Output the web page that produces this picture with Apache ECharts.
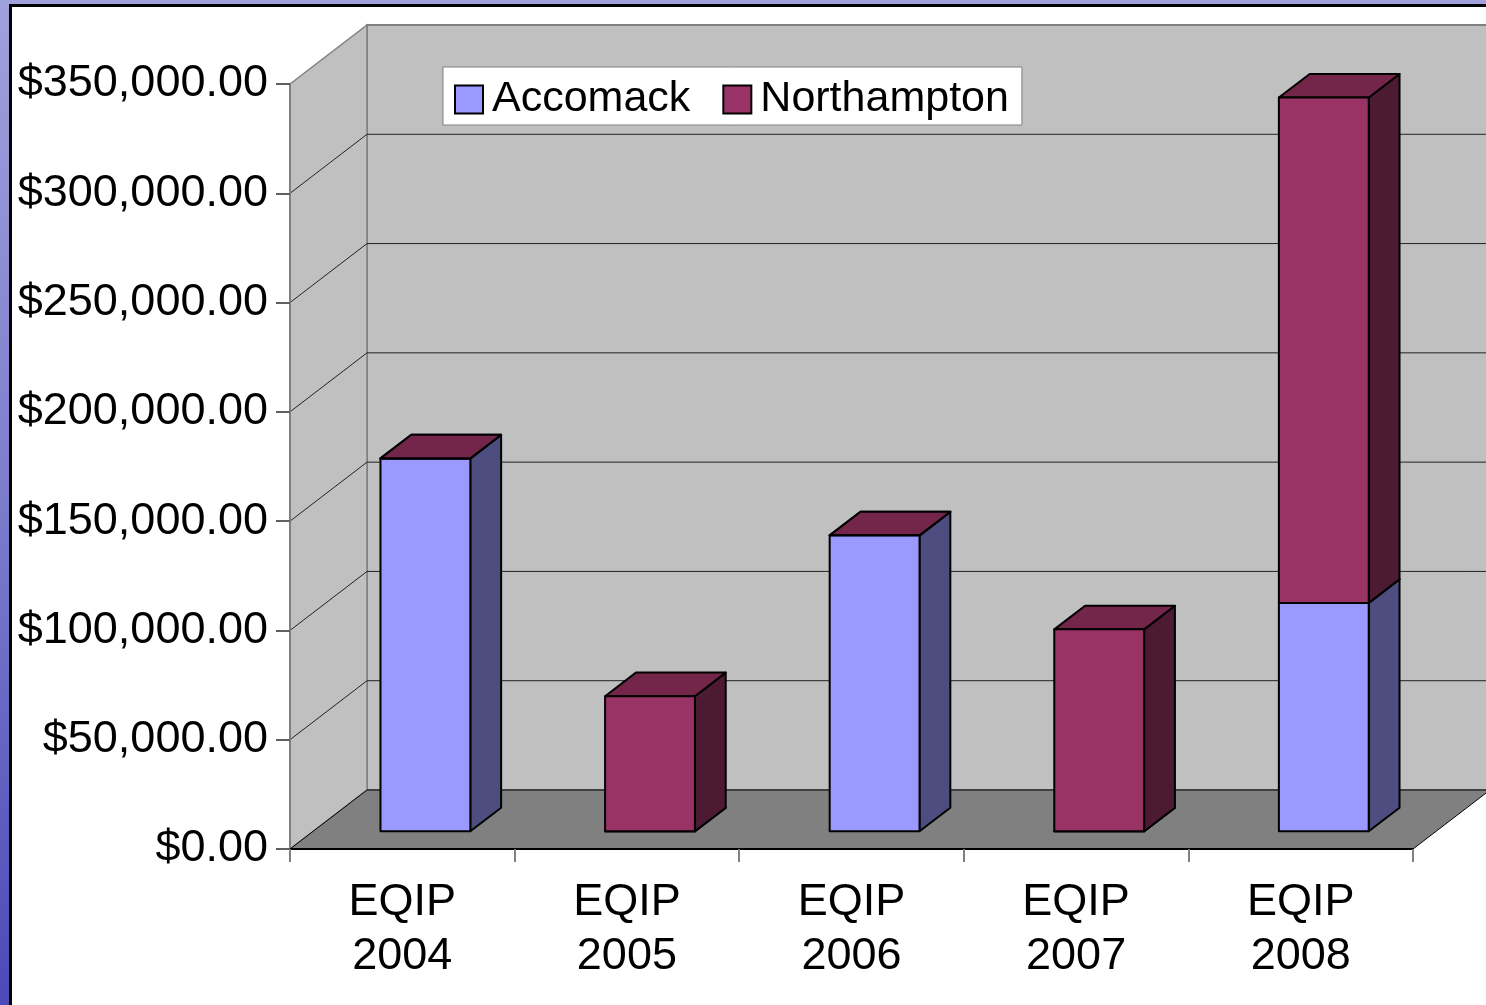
<!DOCTYPE html>
<html>
<head>
<meta charset="utf-8">
<script src="https://cdn.jsdelivr.net/npm/echarts@6/dist/echarts.min.js"></script>
<style>
html, body { margin: 0; padding: 0; }
#chart { width: 1486px; height: 1005px; }
</style>
</head>
<body>
<div id="chart"></div>
<script>
// data
var categories = ['EQIP\n2004', 'EQIP\n2005', 'EQIP\n2006', 'EQIP\n2007', 'EQIP\n2008'];
var accomack = [170600, 0, 135400, 0, 104500];
var northampton = [0, 61800, 0, 92400, 231200];
var gridValues = [50000, 100000, 150000, 200000, 250000, 300000];

// 3d look
var DEPTH = [77, -59];      // full depth of the box (floor)
var BAR_FRONT = 0.3, BAR_BACK = 0.7, BAR_WIDTH = 0.4;
var FONT = '"Liberation Sans", Arial, sans-serif';

function money(v) {
    var s = String(Math.round(v));
    s = s.replace(/\B(?=(\d{3})+(?!\d))/g, ',');
    return '$' + s + '.00';
}

// stacked boxes, base and top of each
var accData = accomack.map(function (v, i) { return [i, 0, v]; });
var norData = northampton.map(function (v, i) { return [i, accomack[i], accomack[i] + v]; });

function boxRenderer(colors) {
    return function (params, api) {
        var c = api.value(0);
        var p0 = api.coord([c, api.value(1)]);
        var p1 = api.coord([c, api.value(2)]);
        var bw = api.size([1, 0])[0] * BAR_WIDTH;
        var fx = DEPTH[0] * BAR_FRONT, fy = DEPTH[1] * BAR_FRONT;
        var dx = DEPTH[0] * (BAR_BACK - BAR_FRONT), dy = DEPTH[1] * (BAR_BACK - BAR_FRONT);
        var xL = p0[0] - bw / 2 + fx, xR = p0[0] + bw / 2 + fx;
        var yB = p0[1] + fy, yT = p1[1] + fy;
        var line = {stroke: '#000', lineWidth: 2, lineJoin: 'round'};
        return {
            type: 'group',
            children: [
                {type: 'polygon', shape: {points: [[xR, yB], [xR + dx, yB + dy], [xR + dx, yT + dy], [xR, yT]]},
                    style: Object.assign({fill: colors.side}, line)},
                {type: 'polygon', shape: {points: [[xL, yT], [xR, yT], [xR + dx, yT + dy], [xL + dx, yT + dy]]},
                    style: Object.assign({fill: colors.top}, line)},
                {type: 'rect', shape: {x: xL, y: yT, width: xR - xL, height: yB - yT},
                    style: Object.assign({fill: colors.front}, line)}
            ]
        };
    };
}

var myChart = echarts.init(document.getElementById('chart'));

var option = {
    backgroundColor: new echarts.graphic.LinearGradient(0, 0, 0, 1, [
        {offset: 0, color: '#a0a0dc'},
        {offset: 0.5, color: '#7c7ccc'},
        {offset: 1, color: '#4a4ab8'}
    ]),
    animation: false,
    graphic: [{
        type: 'rect', z: -10, silent: true,
        shape: {x: 10.5, y: 5.5, width: 1500, height: 1020},
        style: {fill: '#ffffff', stroke: '#000', lineWidth: 3}
    }],
    legend: {
        data: ['Accomack', 'Northampton'],
        left: 443, top: 67,
        padding: [11, 13, 4, 11],
        itemGap: 32,
        itemWidth: 28, itemHeight: 28,
        icon: 'rect',
        itemStyle: {borderColor: '#000', borderWidth: 2},
        backgroundColor: '#fff',
        borderColor: '#808080', borderWidth: 1,
        textStyle: {fontFamily: FONT, fontSize: 43, color: '#000', padding: [0, 0, 0, 4]}
    },
    grid: {left: 290, right: 73, top: 84, bottom: 156},
    xAxis: {
        type: 'category',
        data: categories,
        z: 10,
        axisLine: {lineStyle: {color: '#000', width: 2}},
        axisTick: {show: true, length: 13, lineStyle: {color: '#808080', width: 2}},
        axisLabel: {fontFamily: FONT, fontSize: 45, color: '#000', margin: 27, lineHeight: 54, interval: 0}
    },
    yAxis: {
        type: 'value',
        min: 0, max: 350000, interval: 50000,
        z: 10,
        axisLine: {show: true, lineStyle: {color: '#808080', width: 2}},
        axisTick: {show: true, length: 14, lineStyle: {color: '#606060', width: 2}},
        splitLine: {show: false},
        axisLabel: {fontFamily: FONT, fontSize: 45, color: '#000', margin: 22, lineHeight: 51, verticalAlign: 'middle', padding: [7, 0, 0, 0], formatter: money}
    },
    series: [
        {
            // walls and floor
            type: 'custom', name: 'walls', z: 1, silent: true,
            data: [[0, 0]],
            renderItem: function (params, api) {
                var cs = params.coordSys;
                var y0 = api.coord([0, 0])[1];
                var yTop = api.coord([0, 350000])[1];
                var xL = cs.x, xR = cs.x + cs.width;
                var dx = DEPTH[0], dy = DEPTH[1];
                return {
                    type: 'group',
                    children: [
                        {type: 'polygon', shape: {points: [[xL + dx, yTop + dy], [xR + dx + 40, yTop + dy], [xR + dx + 40, y0 + dy], [xL + dx, y0 + dy]]},
                            style: {fill: '#c0c0c0', stroke: '#808080', lineWidth: 2}},
                        {type: 'polygon', shape: {points: [[xL, yTop], [xL + dx, yTop + dy], [xL + dx, y0 + dy], [xL, y0]]},
                            style: {fill: '#c0c0c0', stroke: '#808080', lineWidth: 1.5}},
                        {type: 'polygon', shape: {points: [[xL, y0], [xR, y0], [xR + dx, y0 + dy], [xL + dx, y0 + dy]]},
                            style: {fill: '#808080', stroke: '#000', lineWidth: 1}}
                    ]
                };
            }
        },
        {
            // gridlines on left and back walls
            type: 'custom', name: 'grid', z: 2, silent: true,
            data: gridValues.map(function (v) { return [0, v]; }),
            renderItem: function (params, api) {
                var cs = params.coordSys;
                var y = api.coord([0, api.value(1)])[1];
                var xL = cs.x, xR = cs.x + cs.width;
                var dx = DEPTH[0], dy = DEPTH[1];
                return {
                    type: 'polyline',
                    shape: {points: [[xL, y], [xL + dx, y + dy], [xR + dx + 40, y + dy]]},
                    style: {stroke: '#222', lineWidth: 1, fill: null}
                };
            }
        },
        {
            type: 'custom', name: 'Accomack', z: 3,
            itemStyle: {color: '#9999ff'},
            data: accData,
            renderItem: boxRenderer({front: '#9999ff', side: '#4d4d80', top: '#7373bf'})
        },
        {
            type: 'custom', name: 'Northampton', z: 4,
            itemStyle: {color: '#993366'},
            data: norData,
            renderItem: boxRenderer({front: '#993366', side: '#4d1a33', top: '#732649'})
        }
    ]
};

myChart.setOption(option);
</script>
</body>
</html>
